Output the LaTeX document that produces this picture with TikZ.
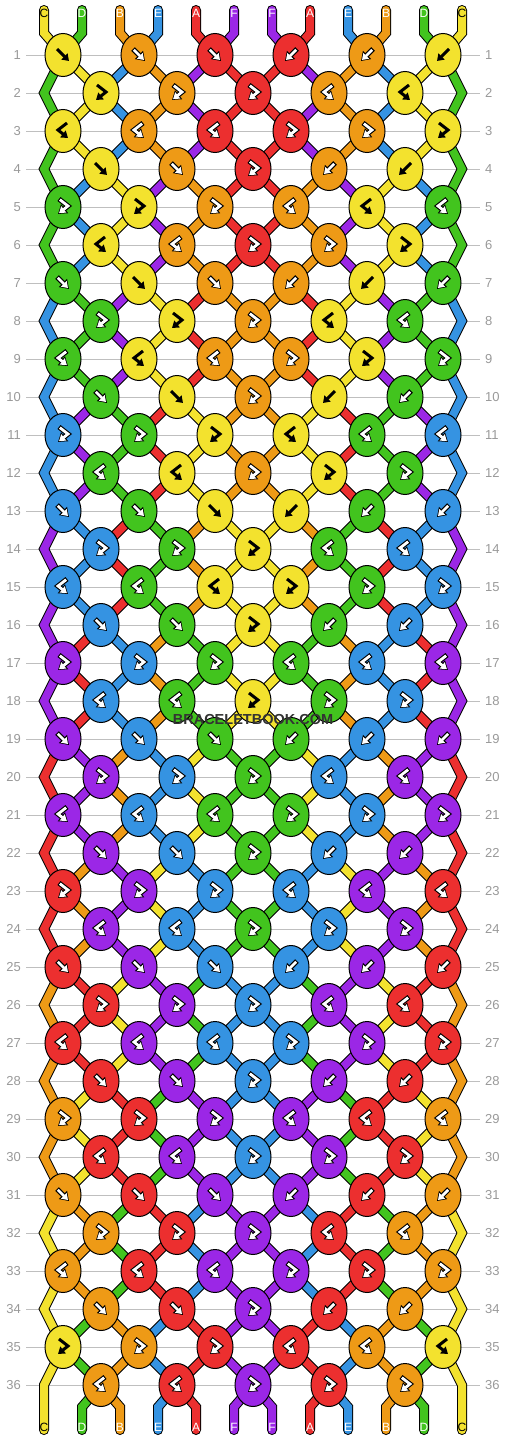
\documentclass[tikz,border=0pt]{standalone}
\usepackage{fontspec}
\setmainfont{Liberation Sans}
\usetikzlibrary{shapes.geometric,arrows.meta}

\definecolor{cY}{HTML}{F3E22E}
\definecolor{cG}{HTML}{42C41E}
\definecolor{cO}{HTML}{EE9A16}
\definecolor{cB}{HTML}{3593E2}
\definecolor{cR}{HTML}{EC2F2F}
\definecolor{cP}{HTML}{9B27E6}

\pgfdeclarelayer{grid}
\pgfdeclarelayer{threadout}
\pgfdeclarelayer{threadin}
\pgfsetlayers{grid,threadout,threadin,main}

\tikzset{
  knot/.style={ellipse, draw=black, line width=1pt, minimum width=36pt, minimum height=43pt, inner sep=0pt},
  threadrim/.style={draw=black, line width=10pt, line cap=round},
  threadcore/.style={line width=8pt, line cap=round},
  rowline/.style={draw=black!25, line width=1pt},
  rownum/.style={text=black!40, font=\fontsize{13}{13}\selectfont, inner sep=0pt},
  endlabel/.style={font=\fontsize{12}{12}\selectfont, inner sep=0pt},
  symrim/.style={draw=black, line width=5pt, -{Triangle[length=8.5pt,width=11pt]}},
  symcore/.style={draw=white, line width=2.8pt, shorten >=1.4pt, shorten <=1.1pt, -{Triangle[length=6pt,width=7.8pt]}},
  symdark/.style={draw=black, line width=3pt, -{Triangle[length=6.5pt,width=8.5pt]}}
}

\def\yel{cY}
% every thread piece, drawn with \seg (rim pass, then colour pass)
\newcommand\allthreads{%
  \foreach \row in {1,...,36} {
    \pgfmathtruncatemacro{\rp}{\row-1}
    \pgfmathtruncatemacro{\rpp}{\row-2}
    \ifodd\row\relax \def\nk{6}\else \def\nk{5}\fi
    \foreach \kn in {1,...,\nk} {
      \pgfmathtruncatemacro{\kl}{\kn-1}
      \pgfmathtruncatemacro{\kr}{\kn+1}
      \ifodd\row\relax \pgfmathtruncatemacro{\pl}{2*\kn-1}\else \pgfmathtruncatemacro{\pl}{2*\kn}\fi
      \pgfmathtruncatemacro{\pr}{\pl+1}
      \edef\colL{\csname tl\row-\kn\endcsname}
      \edef\colR{\csname tr\row-\kn\endcsname}
      \ifnum\row=1
        \seg{\colL}{(top\pl.center) -- (bend\pl.center) -- (k1-\kn.center)}
        \seg{\colR}{(top\pr.center) -- (bend\pr.center) -- (k1-\kn.center)}
      \else
        \ifodd\row\relax
          \ifnum\kn=1
            \seg{\colL}{(k\rpp-1.center) -- (eL\rp.center) -- (k\row-1.center)}
          \else
            \seg{\colL}{(k\rp-\kl.center) -- (k\row-\kn.center)}
          \fi
          \ifnum\kn=6
            \seg{\colR}{(k\rpp-6.center) -- (eR\rp.center) -- (k\row-6.center)}
          \else
            \seg{\colR}{(k\rp-\kn.center) -- (k\row-\kn.center)}
          \fi
        \else
          \seg{\colL}{(k\rp-\kn.center) -- (k\row-\kn.center)}
          \seg{\colR}{(k\rp-\kr.center) -- (k\row-\kn.center)}
        \fi
      \fi
    }
  }
  \edef\colL{\csname th1\endcsname}
  \seg{\colL}{(k35-1.center) -- (eL36.center) -- (bot1.center)}
  \edef\colR{\csname th12\endcsname}
  \seg{\colR}{(k35-6.center) -- (eR36.center) -- (bot12.center)}
  \foreach \pos in {2,...,11} {
    \pgfmathtruncatemacro{\kn}{\pos/2}
    \edef\colL{\csname th\pos\endcsname}
    \seg{\colL}{(k36-\kn.center) -- (foot\pos.center) -- (bot\pos.center)}
  }
}

\begin{document}
\begin{tikzpicture}[x=1pt,y=-1pt]
  \useasboundingbox (0,0) rectangle (506,1440);
  % threads at the start, and their ends
  \foreach \lab/\col/\ink [count=\pos] in {C/cY/black,D/cG/white,B/cO/white,E/cB/white,A/cR/white,F/cP/white,
      F/cP/white,A/cR/white,E/cB/white,B/cO/white,D/cG/white,C/cY/black} {
    \expandafter\xdef\csname th\pos\endcsname{\col}
    \pgfmathtruncatemacro{\xp}{44+38*(\pos-1)}
    \coordinate (top\pos) at (\xp,10);
    \coordinate (bend\pos) at (\xp,33);
    \coordinate (foot\pos) at (\xp,1407);
    \coordinate (bot\pos) at (\xp,1430);
    \node[endlabel, text=\ink] (tl\pos) at (\xp,13) {\lab};
    \node[endlabel, text=\ink] (bl\pos) at (\xp,1427) {\lab};
  }

  \foreach \row in {1,...,36} {
    \pgfmathtruncatemacro{\y}{17+38*\row}
    \pgfmathtruncatemacro{\m}{mod(\row,6)}
    \node[rownum, anchor=east] (lnum\row) at (21,\y) {\row};
    \node[rownum, anchor=west] (rnum\row) at (485,\y) {\row};
    \ifodd\row\relax\else
      \coordinate (eL\row) at (44,\y);
      \coordinate (eR\row) at (462,\y);
    \fi
    % 1 forward, 2 backward, 3 forward-backward, 4 backward-forward
    \ifcase\m \def\kinds{4,4,3,3,3}\or \def\kinds{1,1,1,2,2,2}\or \def\kinds{3,3,3,4,4}\or
      \def\kinds{4,4,4,3,3,3}\or \def\kinds{1,1,3,2,2}\or \def\kinds{3,3,3,4,4,4}\fi
    \foreach \kind [count=\kn] in \kinds {
      \ifodd\row\relax
        \pgfmathtruncatemacro{\pl}{2*\kn-1}
        \pgfmathtruncatemacro{\x}{76*\kn-13}
      \else
        \pgfmathtruncatemacro{\pl}{2*\kn}
        \pgfmathtruncatemacro{\x}{76*\kn+25}
      \fi
      \pgfmathtruncatemacro{\pr}{\pl+1}
      \edef\colL{\csname th\pl\endcsname}
      \edef\colR{\csname th\pr\endcsname}
      \expandafter\xdef\csname tl\row-\kn\endcsname{\colL}
      \expandafter\xdef\csname tr\row-\kn\endcsname{\colR}
      \ifodd\kind\relax \let\kc\colL \else \let\kc\colR \fi
      \node[knot, fill=\kc] (k\row-\kn) at (\x,\y) {};
      \begin{scope}[shift={(\x,\y)}]
        \ifcase\kind\or \def\sympath{(-6,-6) -- (6,6)}\or \def\sympath{(6,-6) -- (-6,6)}\or
          \def\sympath{(-4,-8) -- (5,-1) -- (-5,7)}\or \def\sympath{(4,-8) -- (-5,-1) -- (5,7)}\fi
        \ifx\kc\yel
          \draw[symdark] \sympath;
        \else
          \draw[symrim] \sympath;
          \draw[symcore] \sympath;
        \fi
      \end{scope}
      \ifnum\kind<3
        \expandafter\xdef\csname th\pl\endcsname{\colR}
        \expandafter\xdef\csname th\pr\endcsname{\colL}
      \fi
    }
  }

  \begin{pgfonlayer}{grid}
    \foreach \row in {1,...,36} {
      \pgfmathtruncatemacro{\y}{17+38*\row}
      \draw[rowline] (26,\y) -- (480,\y);
    }
  \end{pgfonlayer}
  \begin{pgfonlayer}{threadout}
    \def\seg#1#2{\draw[threadrim] #2;}
    \allthreads
  \end{pgfonlayer}
  \begin{pgfonlayer}{threadin}
    \def\seg#1#2{\draw[threadcore, draw=#1] #2;}
    \allthreads
  \end{pgfonlayer}

  \node[font=\bfseries\fontsize{14.5}{14.5}\selectfont, text=black!80] (mark) at (253,719) {BRACELETBOOK.COM};
\end{tikzpicture}
\end{document}
